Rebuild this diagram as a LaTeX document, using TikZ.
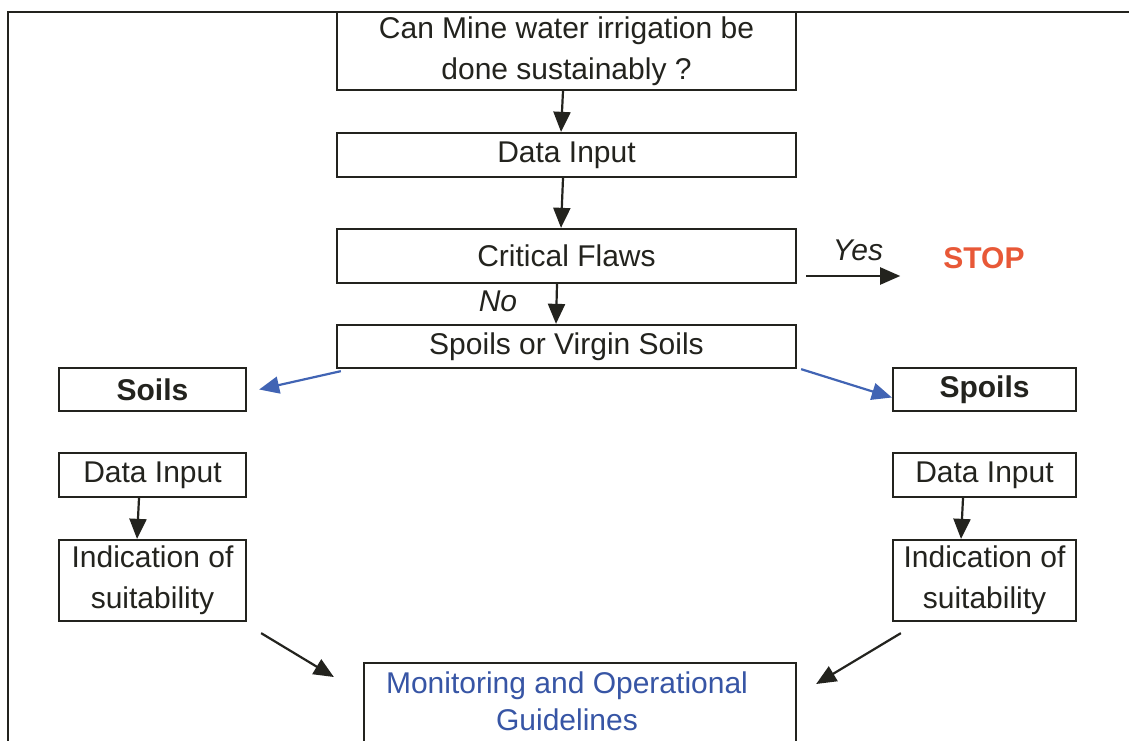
\documentclass[tikz,border=0pt]{standalone}
\usepackage{fontspec}
\setmainfont{Liberation Sans}
\usetikzlibrary{arrows.meta,calc}
\definecolor{ink}{RGB}{35,35,30}
\definecolor{flowblue}{RGB}{65,100,180}
\definecolor{textblue}{RGB}{55,85,165}
\definecolor{stopred}{RGB}{232,88,55}
\begin{document}
\begin{tikzpicture}[x=1pt,y=-1pt,
  every node/.style={font=\fontsize{30}{41}\selectfont, text=ink},
  box/.style={draw=ink, line width=2.3pt, inner sep=0pt, align=center},
  arr/.style={draw=ink, line width=2.2pt, -{Triangle[length=20pt,width=17pt]}},
  barr/.style={draw=flowblue, line width=2.2pt, -{Triangle[length=20pt,width=17pt]}},
  lbl/.style={inner sep=0pt, font=\fontsize{30}{41}\selectfont\itshape}]
\useasboundingbox (0,0) rectangle (1129,741);
\clip (0,0) rectangle (1129,741);
\fill[white] (0,0) rectangle (1129,741);
% outer frame (runs off the right and bottom edges)
\draw[ink, line width=2.6pt] (8,760) -- (8,12) -- (1140,12);

% main column
\node[box, minimum width=459, minimum height=78] (q) at (566.5,51) {Can Mine water irrigation be\\done sustainably ?};
\node[box, minimum width=459, minimum height=44] (di) at (566.5,155) {\raisebox{-2pt}{Data Input}};
\node[box, minimum width=459, minimum height=54] (cf) at (566.5,256) {\raisebox{-2pt}{Critical Flaws}};
\node[box, minimum width=459, minimum height=43] (sv) at (566.5,346.5) {Spoils or Virgin Soils};

\node[lbl] (yes) at (858,250) {Yes};
\node[inner sep=0pt, font=\fontsize{30}{41}\selectfont\bfseries, text=stopred] (stop) at (984,258) {STOP};
\node[lbl] (no) at (498,301) {No};

% side branches
\node[box, minimum width=187, minimum height=43, font=\fontsize{30}{41}\selectfont\bfseries] (soils) at (152.5,389.5) {Soils};
\node[box, minimum width=183, minimum height=43, font=\fontsize{30}{41}\selectfont\bfseries] (spoils) at (984.5,389.5) {Spoils};
\node[box, minimum width=187, minimum height=44] (diL) at (152.5,475) {Data Input};
\node[box, minimum width=183, minimum height=44] (diR) at (984.5,475) {Data Input};
\node[box, minimum width=187, minimum height=81] (indL) at (152.5,580.5) {Indication of\\suitability};
\node[box, minimum width=183, minimum height=81] (indR) at (984.5,580.5) {Indication of\\suitability};

% bottom box (runs off the bottom edge)
\node[box, minimum width=432, minimum height=100, anchor=north] (mon) at (580,662) {};
\node[inner sep=0pt, align=center, text=textblue, font=\fontsize{30}{37}\selectfont] (montext) at (567,701) {Monitoring and Operational\\Guidelines};

% connectors
\draw[arr] ($(q.south)+(-3.5,0)$) -- ($(di.north)+(-5.5,0)$);
\draw[arr] ($(di.south)+(-3.5,0)$) -- ($(cf.north)+(-5.5,0)$);
\draw[arr] ($(cf.south)+(-9.5,0)$) -- ($(sv.north)+(-10.5,0)$);
\draw[arr] ($(cf.east)+(9,20)$) -- ($(stop.west)+(-43,18)$);
\draw[barr] ($(sv.south west)+(5,2)$) -- ($(soils.east)+(12,0)$);
\draw[barr] ($(sv.south east)+(4,0)$) -- ($(spoils.west)+(0,8)$);
\draw[arr] ($(diL.south)+(-13.5,0)$) -- ($(indL.north)+(-15.5,0)$);
\draw[arr] ($(diR.south)+(-21.5,0)$) -- ($(indR.north)+(-23.5,0)$);
\draw[arr] ($(indL.south east)+(14,11)$) -- ($(mon.north west)+(-29,15)$);
\draw[arr] ($(indR.south west)+(9,11)$) -- ($(mon.north east)+(19,22)$);
\end{tikzpicture}
\end{document}
